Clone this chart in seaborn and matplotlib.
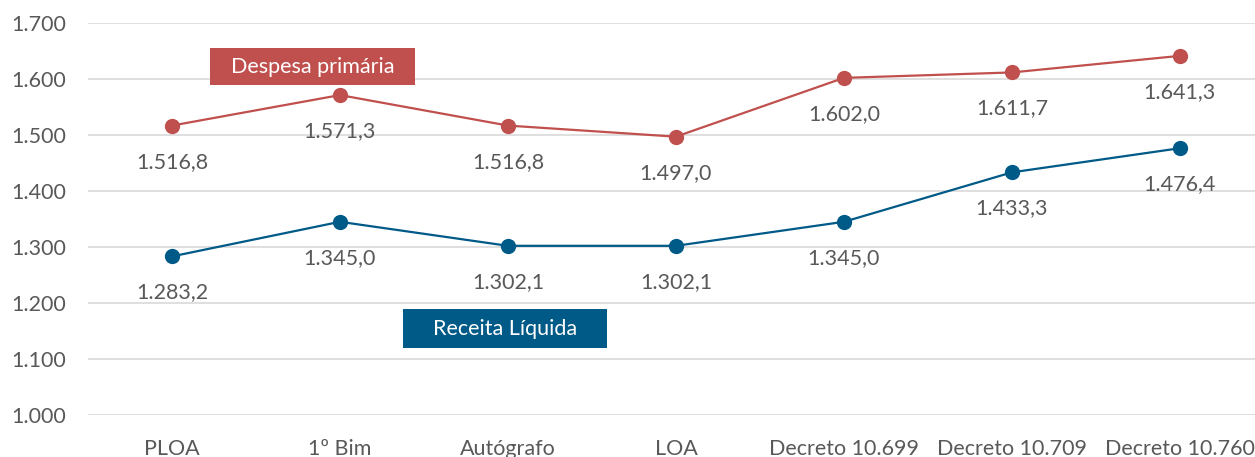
import pandas as pd
import matplotlib.pyplot as plt
import seaborn as sns
from matplotlib.patches import Rectangle

# dados (R$ bilhões)
etapas = ["PLOA", "1º Bim", "Autógrafo", "LOA", "Decreto 10.699", "Decreto 10.709", "Decreto 10.760"]
despesa_primaria = [1516.8, 1571.3, 1516.8, 1497.0, 1602.0, 1611.7, 1641.3]
receita_liquida = [1283.2, 1345.0, 1302.1, 1302.1, 1345.0, 1433.3, 1476.4]

VERMELHO = "#C0504D"
AZUL = "#005A87"
CINZA = "#595959"


def fmt_br(v):
    # 1516.8 -> 1.516,8
    s = f"{v:,.1f}"
    return s.replace(",", "X").replace(".", ",").replace("X", ".")


df = pd.DataFrame({
    "etapa": etapas * 2,
    "valor": despesa_primaria + receita_liquida,
    "serie": ["Despesa primária"] * len(etapas) + ["Receita Líquida"] * len(etapas),
})

sns.set_style("white")
plt.rcParams["font.family"] = ["Lato", "DejaVu Sans"]

fig = plt.figure(figsize=(12.55, 4.57), dpi=100)
ax = fig.add_axes([0.0701, 0.0919, 0.937, 0.8578])

sns.lineplot(data=df, x="etapa", y="valor", hue="serie", sort=False,
             palette={"Despesa primária": VERMELHO, "Receita Líquida": AZUL},
             marker="o", markersize=11, markeredgewidth=0, linewidth=1.6,
             legend=False, ax=ax)

# rótulos de dados abaixo dos pontos
for serie in (despesa_primaria, receita_liquida):
    for i, v in enumerate(serie):
        ax.annotate(fmt_br(v), (i, v), xytext=(0, -26), textcoords="offset points",
                    ha="center", va="center", fontsize=15.5, color=CINZA)

# caixas com nome das séries
ax.add_patch(Rectangle((0.226, 1589), 1.22, 66, fc=VERMELHO, ec="none", zorder=3))
ax.text(0.836, 1622, "Despesa primária", ha="center", va="center", fontsize=15.5,
        color="white", zorder=4)
ax.add_patch(Rectangle((1.375, 1120), 1.214, 69, fc=AZUL, ec="none", zorder=3))
ax.text(1.982, 1154, "Receita Líquida", ha="center", va="center", fontsize=15.5,
        color="white", zorder=4)

ax.set_xlim(-0.5, len(etapas) - 0.5)
ax.set_ylim(1000, 1700)
ax.set_yticks(range(1000, 1701, 100))
ax.set_yticklabels([fmt_br(t)[:-2] for t in range(1000, 1701, 100)])
ax.yaxis.grid(True, color="#D9D9D9", linewidth=1.2)
ax.set_axisbelow(True)
ax.tick_params(axis="both", length=0, labelsize=15.5, colors=CINZA)
ax.tick_params(axis="y", pad=16)
ax.tick_params(axis="x", pad=17)
ax.set_xlabel("")
ax.set_ylabel("")
sns.despine(ax=ax, left=True, bottom=True)

fig.savefig("out.png", dpi=100)
